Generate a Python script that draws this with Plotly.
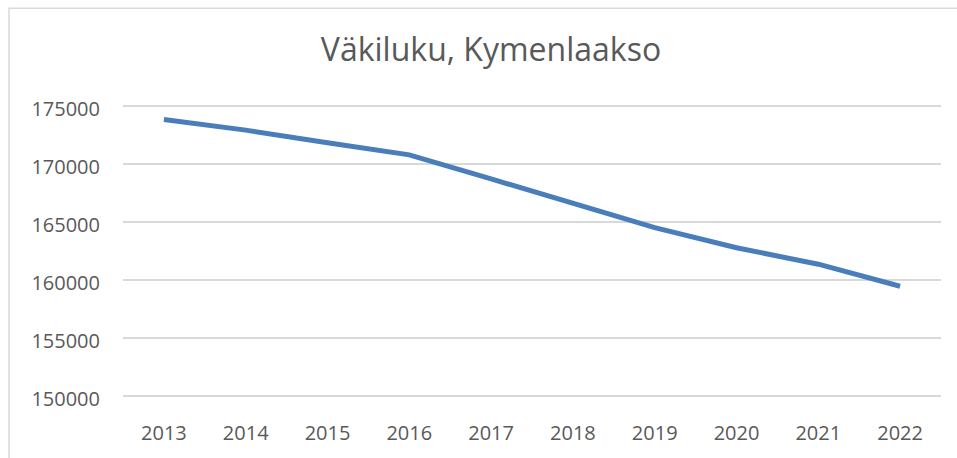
import plotly.graph_objects as go

years = ["2013", "2014", "2015", "2016", "2017", "2018", "2019", "2020", "2021", "2022"]
population = [173840, 172930, 171850, 170800, 168720, 166600, 164520, 162780, 161360, 159460]
y_ticks = [150000, 155000, 160000, 165000, 170000, 175000]

W, H = 957, 458
ML, MR, MT, MB = 123, 16, 105, 57

fig = go.Figure()
fig.add_trace(go.Scatter(
    x=years, y=population, mode="lines",
    line=dict(color="#4a7ebb", width=5),
    hoverinfo="x+y", showlegend=False,
))

plot_w = W - ML - MR
plot_h = H - MT - MB
fig.add_shape(
    type="rect", xref="paper", yref="paper",
    x0=(9 - ML) / plot_w, x1=1.2,
    y0=-0.5, y1=(H - MB - 7) / plot_h,
    line=dict(color="#d9d9d9", width=1.5), fillcolor="rgba(0,0,0,0)", layer="below",
)

fig.update_layout(
    width=W, height=H,
    margin=dict(l=ML, r=MR, t=MT, b=MB),
    paper_bgcolor="white", plot_bgcolor="white",
    font=dict(family="Open Sans", color="#595959", size=20),
    title=dict(text="Väkiluku, Kymenlaakso", x=491 / W, xanchor="center", xref="container",
               y=1 - 50 / H, yanchor="middle", yref="container",
               font=dict(size=32, color="#595959", family="Open Sans")),
    xaxis=dict(type="category", range=[-0.5, 9.5], showgrid=False, zeroline=False, showline=False,
               ticks="outside", ticklen=18, tickcolor="rgba(0,0,0,0)",
               tickfont=dict(size=20, color="#595959")),
    yaxis=dict(range=[149900, 175100], tickvals=y_ticks, ticktext=[str(v) for v in y_ticks],
               showgrid=True, gridcolor="#d9d9d9", gridwidth=1.5, zeroline=False, showline=False,
               ticks="outside", ticklen=18, tickcolor="rgba(0,0,0,0)", ticklabelshift=3,
               tickfont=dict(size=20, color="#595959")),
)

fig.write_html("out.html", config={"displayModeBar": False},
               post_script="document.body.style.margin='0';")
